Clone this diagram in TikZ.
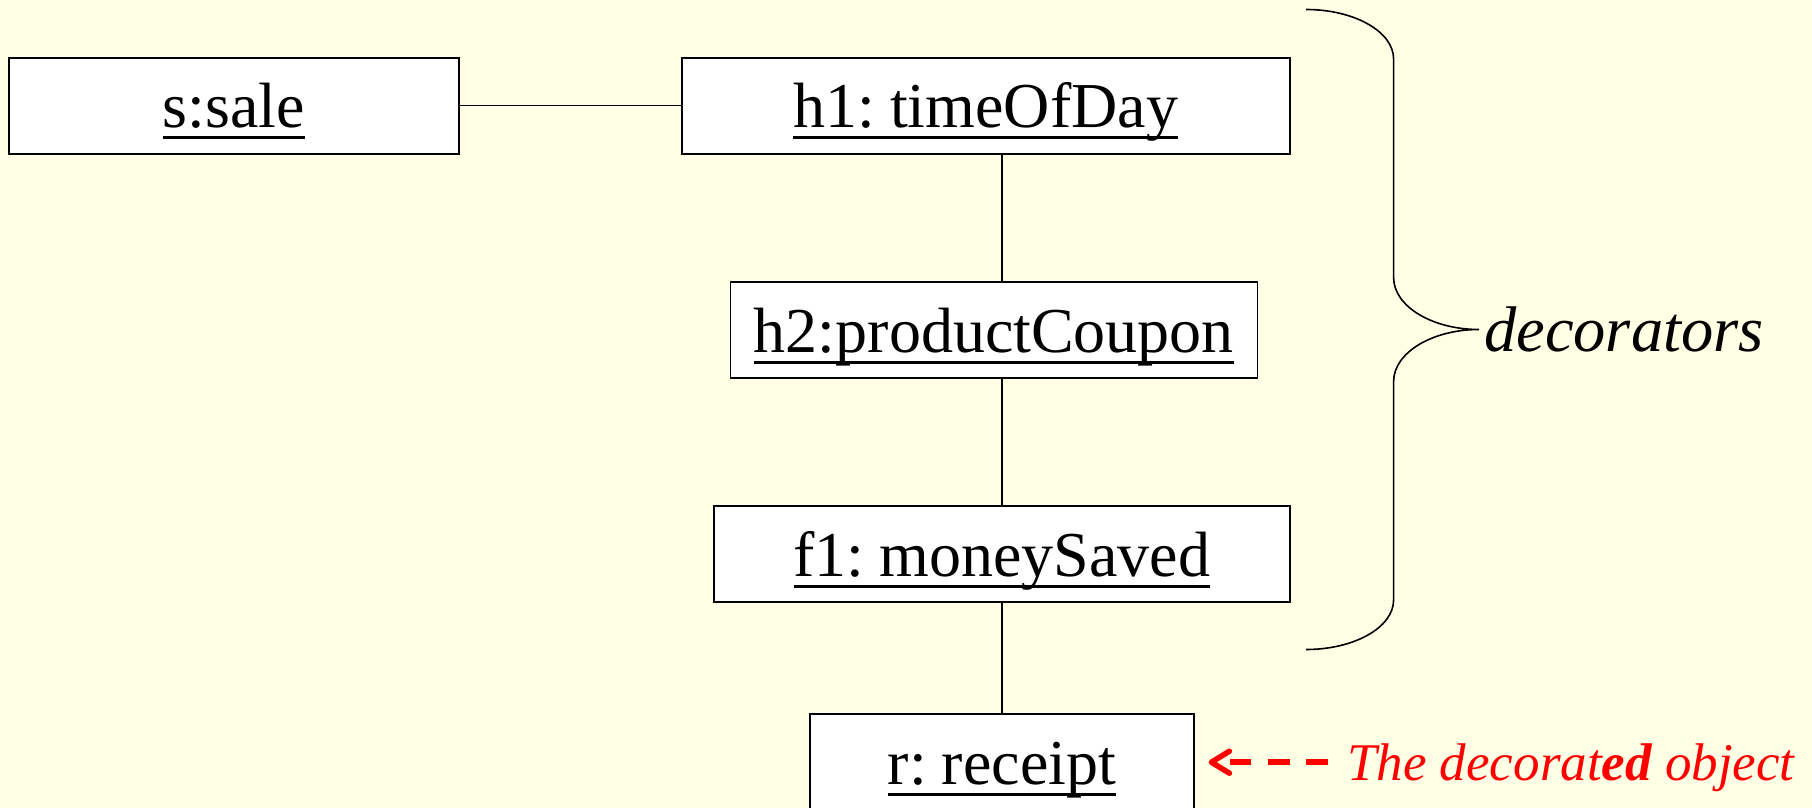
\documentclass[tikz,border=0pt]{standalone}
\usepackage{fontspec}
\setmainfont{Liberation Serif}
\newfontfamily\objfont[WordSpace=0.6]{Liberation Serif}
\usetikzlibrary{arrows.meta}
\definecolor{paper}{RGB}{255,255,230}

% underline set at a fixed depth below the baseline, crossing descenders
\newcommand{\objname}[1]{\setbox0\hbox{#1}\rlap{\vrule height -8.5pt depth 11.5pt width \wd0}\box0}

\begin{document}
\begin{tikzpicture}[x=1pt,y=-1pt,
  obj/.style={draw=black, line width=1.8pt, fill=white, inner sep=0pt,
    text height=44pt, text depth=0pt, minimum height=95.9pt,
    font=\objfont\fontsize{64}{70}\selectfont},
  link/.style={draw=black, line width=1.5pt},
  brace/.style={draw=black, line width=1.6pt},
  pointer/.style={draw=red, line width=5.5pt, dash pattern=on 21.7pt off 16.7pt,
    -{Straight Barb[length=18pt, width=22pt, round]}},
]
\fill[paper] (0,0) rectangle (1812,808);
\useasboundingbox (0,0) rectangle (1812,808);

% objects
\node[obj, minimum width=449.6pt] (sale) at (234,105.7) {\objname{s:sale}};
\node[obj, minimum width=607.9pt] (h1) at (985.7,105.7) {\objname{h1: timeOfDay}};
\node[obj, minimum width=527pt] (h2) at (993.9,330) {\objname{h2:productCoupon}};
\node[obj, minimum width=575.5pt] (f1) at (1001.9,554.1) {\objname{f1: moneySaved}};
\node[obj, minimum width=383.7pt] (r) at (1001.9,762.2) {\objname{r: receipt}};

% links
\draw[link] (sale.east) -- (h1.west);
\draw[link] (h1.south -| r.north) -- (h2.north -| r.north);
\draw[link] (h2.south -| r.north) -- (f1.north -| r.north);
\draw[link] (f1.south -| r.north) -- (r.north);

% brace around the decorators
\node[font=\itshape\fontsize{64.5}{70}\selectfont, anchor=base west, inner sep=0pt]
  (dec) at (1484,351.5) {decorators};
\coordinate (tip) at (1479,329.5);
\draw[brace] (1306,9.5) .. controls (1354.4,9.5) and (1393.6,31.7) .. (1393.6,59)
  -- (1393.6,277.5) .. controls (1393.6,306.2) and (1432,329.5) .. (tip)
  .. controls (1432,329.5) and (1393.6,352.8) .. (1393.6,381.5)
  -- (1393.6,600) .. controls (1393.6,627.3) and (1354.4,649.5) .. (1306,649.5);

% note on the decorated object
\node[font=\itshape\fontsize{53}{60}\selectfont, text=red, anchor=base west, inner sep=0pt]
  (note) at (1347,780.5) {The decorat\textbf{ed} object};
\draw[pointer] ([xshift=-19pt]note.west |- r.east) -- ([xshift=14pt]r.east);
\end{tikzpicture}
\end{document}
